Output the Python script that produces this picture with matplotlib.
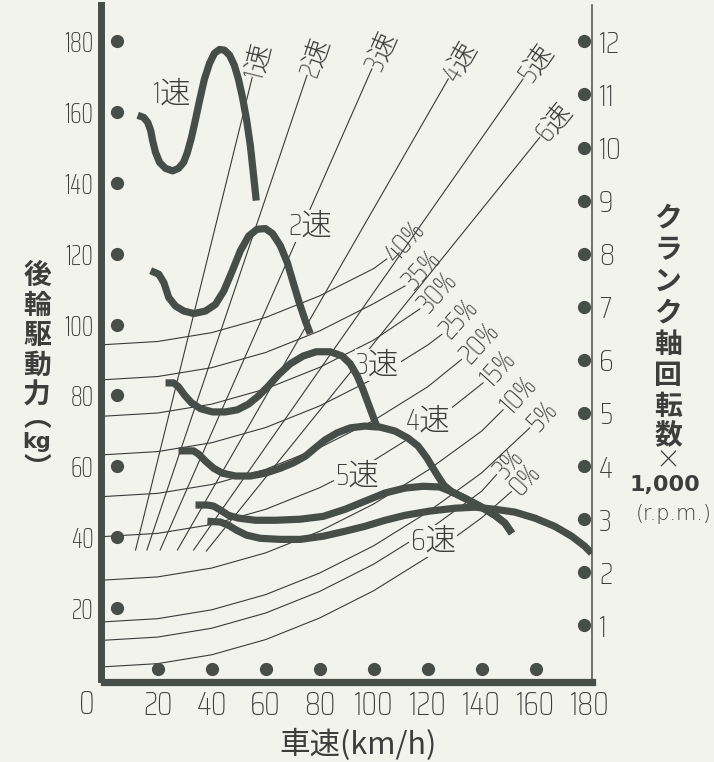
import matplotlib
matplotlib.use('Agg')
import matplotlib.pyplot as plt
from matplotlib import font_manager as fm
import numpy as np

# ---------------- data ----------------
speed_ticks = [20, 40, 60, 80, 100, 120, 140, 160, 180]
force_ticks = [20, 40, 60, 80, 100, 120, 140, 160, 180]
rpm_ticks = [1, 2, 3, 4, 5, 6, 7, 8, 9, 10, 11, 12]
RPM_TO_KG = 15.0  # right axis 12 (x1000 rpm) sits at left-axis 180 kg

gear_names = ['1速', '2速', '3速', '4速', '5速', '6速']

gear1_speed = [12.6, 14.8, 16.3, 17.4, 18.1, 19.2, 20.7, 22.9, 25.5, 27.7, 29.6, 31.0, 32.5, 34.0,
               35.5, 37.3, 39.2, 41.0, 42.9, 44.7, 46.6, 48.4, 49.9, 51.4, 52.9, 54.3, 55.4, 56.5]
gear1_force = [159.1, 158.5, 157.1, 154.8, 152.0, 148.6, 145.8, 144.1, 143.4, 144.1, 145.8, 148.6, 152.8, 157.9,
               163.3, 169.3, 173.8, 176.6, 177.7, 177.5, 176.1, 173.2, 169.3, 164.2, 157.9, 150.6, 142.9, 135.0]

gear2_speed = [17.4, 20.4, 22.3, 24.1, 26.6, 29.7, 33.4, 37.7, 41.4, 44.5, 47.6, 50.6, 53.7, 56.8,
               59.9, 62.5, 65.4, 68.0, 70.2, 72.4, 74.7, 76.5]
gear2_force = [115.2, 114.2, 111.8, 107.6, 105.2, 103.8, 103.1, 103.8, 105.7, 109.5, 115.1, 120.8, 125.0, 126.9,
               127.1, 125.7, 122.3, 117.5, 111.8, 106.2, 101.0, 97.4]

gear3_speed = [22.9, 25.9, 27.7, 29.9, 32.5, 35.9, 40.3, 45.1, 49.5, 53.6, 57.3, 61.0, 64.7, 69.1,
               73.9, 78.7, 83.9, 88.3, 91.3, 93.9, 96.1, 98.3, 100.5, 101.6]
gear3_force = [83.5, 83.5, 82.4, 80.1, 77.9, 76.2, 75.3, 75.3, 75.9, 77.5, 79.8, 82.6, 85.8, 88.9,
               91.1, 92.3, 92.3, 91.1, 88.9, 85.5, 81.5, 77.0, 72.5, 70.5]

gear4_speed = [27.7, 33.3, 35.1, 37.7, 40.7, 44.0, 48.8, 54.3, 59.9, 65.4, 70.2, 74.7, 78.3, 82.0, 86.5,
               91.3, 96.8, 102.4, 107.9, 112.7, 116.4, 119.7, 123.1, 126.0, 129.0, 133.8, 139.3, 144.9, 148.6, 151.2]
gear4_force = [64.3, 64.3, 63.4, 61.4, 59.4, 58.0, 57.2, 57.2, 58.0, 59.4, 60.9, 62.8, 65.1, 67.4, 69.4,
               70.8, 71.3, 71.0, 69.9, 67.9, 65.7, 62.3, 58.0, 54.6, 52.7, 50.9, 48.7, 46.1, 43.9, 41.0]

gear5_speed = [34.0, 38.4, 40.7, 43.2, 46.2, 49.9, 56.2, 63.6, 72.8, 81.3, 89.4, 96.8, 104.2, 111.6,
               118.3, 124.5, 129.0, 133.8, 139.3, 144.9, 148.6, 151.2]
gear5_force = [49.0, 49.0, 48.7, 47.6, 46.1, 45.3, 44.7, 44.7, 45.0, 45.8, 47.8, 50.1, 52.4, 53.8,
               54.3, 54.1, 52.7, 50.9, 48.7, 46.1, 43.9, 41.0]

gear6_speed = [38.4, 43.2, 46.2, 49.2, 52.9, 58.0, 65.4, 72.8, 81.3, 89.4, 96.8, 104.2, 111.6, 120.8,
               130.1, 137.5, 144.9, 152.3, 159.7, 167.0, 173.3, 178.1, 180.7]
gear6_force = [44.4, 44.2, 43.3, 41.9, 40.5, 39.6, 39.3, 39.3, 40.2, 41.6, 43.0, 44.7, 46.1, 47.3,
               48.1, 48.4, 47.8, 47.0, 45.3, 43.0, 40.2, 37.4, 35.4]

# engine-speed lines of each gear (km/h, x1000 rpm) : start and end points
gearline_start_speed = [11.8, 16.0, 20.9, 27.3, 33.3, 38.0]
gearline_start_rpm = [2.42, 2.42, 2.42, 2.42, 2.42, 2.40]
gearline_end_speed = [55.0, 75.3, 99.3, 127.6, 155.3, 161.5]
gearline_end_rpm = [11.32, 11.36, 11.48, 11.29, 11.29, 10.19]

# gradient resistance curves
grade_labels = ['0%', '3%', '5%', '10%', '15%', '20%', '25%', '30%', '35%', '40%']
grade_speed = [
    [0, 20, 40, 60, 80, 100, 120, 140, 151.0],
    [0, 20, 40, 60, 80, 100, 120, 140, 145.5],
    [0, 20, 40, 60, 80, 100, 120, 140, 157.8],
    [0, 20, 40, 60, 80, 100, 120, 140, 147.9],
    [0, 20, 40, 60, 80, 100, 120, 140.5],
    [0, 20, 40, 60, 80, 100, 120, 132.5],
    [0, 20, 40, 60, 80, 100, 120, 125.2],
    [0, 20, 40, 60, 80, 100, 117.1],
    [0, 20, 40, 60, 80, 100, 111.6],
    [0, 20, 40, 60, 80, 100, 104.8],
]
grade_force = [
    [3.3, 4.2, 6.7, 11.0, 17.1, 24.8, 34.3, 45.4, 52.8],
    [10.8, 11.7, 14.2, 18.5, 24.6, 32.3, 41.8, 52.9, 57.6],
    [16.0, 16.9, 19.4, 23.7, 29.8, 37.5, 47.0, 58.1, 70.8],
    [27.8, 28.7, 31.2, 35.5, 41.6, 49.3, 58.8, 69.9, 75.9],
    [40.1, 41.0, 43.5, 47.8, 53.9, 61.6, 71.1, 83.5],
    [51.4, 52.3, 54.8, 59.1, 65.2, 72.9, 82.4, 90.1],
    [63.2, 64.1, 66.6, 70.9, 77.0, 84.7, 94.2, 97.2],
    [74.1, 75.0, 77.5, 81.8, 87.9, 95.6, 104.4],
    [84.4, 85.3, 87.8, 92.1, 98.2, 105.9, 110.9],
    [94.3, 95.2, 97.7, 102.0, 108.1, 115.8, 118.5],
]

# curve-label positions (km/h, kg)
gear_label_speed = [25.5, 76.5, 101.6, 120.1, 93.9, 122.0]
gear_label_force = [165.1, 127.9, 88.6, 72.7, 57.2, 38.8]

# ---------------- style ----------------
W, H = 714, 762
BG = '#f3f3ee'
INK = '#474e4a'
TXT = '#3d3d3d'

avail = {f.name for f in fm.fontManager.ttflist}
def pick(cands, default='DejaVu Sans'):
    for c in cands:
        if c in avail:
            return c
    return default

NUM = pick(['Saira Condensed', 'Roboto Condensed', 'DejaVu Sans Condensed', 'Roboto'])
NUMY = pick(['Saira ExtraCondensed', 'Saira Condensed', 'Roboto Condensed', 'DejaVu Sans'])
CJK = 'Noto Sans CJK JP'
FAM = [NUM, CJK, 'DejaVu Sans']
plt.rcParams['font.family'] = FAM
plt.rcParams['font.weight'] = 'light'

fig = plt.figure(figsize=(W / 100, H / 100), dpi=100, facecolor=BG)
L, R, B, T = 103.7, 592.0, 678.5, 5.0
ax = fig.add_axes([L / W, (H - B) / H, (R - L) / W, (B - T) / H])
ax.set_facecolor('none')
ax.set_xlim(0, (R - L) / 2.70)
ax.set_ylim(0, (B - T) / 3.54)

ax.spines['top'].set_visible(False)
ax.spines['left'].set_linewidth(5.0)
ax.spines['bottom'].set_linewidth(5.2)
ax.spines['left'].set_position(('outward', 2.3))
ax.spines['bottom'].set_position(('outward', 2.3))
ax.spines['right'].set_linewidth(1.1)
for s in ['left', 'bottom', 'right']:
    ax.spines[s].set_color(INK)

ax.set_xticks(speed_ticks)
ax.set_yticks(force_ticks)
ax.tick_params(axis='both', length=0, colors=TXT)
ax.tick_params(axis='x', pad=7, labelsize=23)
ax.tick_params(axis='y', pad=5, labelsize=21)
for lab in ax.get_yticklabels():
    lab.set_fontfamily([NUMY, 'DejaVu Sans'])
ax.text(-0.034, -0.039, '0', transform=ax.transAxes, ha='center', va='center',
        fontsize=23, color=TXT)

ax2 = ax.twinx()
ax2.set_ylim(0, ax.get_ylim()[1] / RPM_TO_KG)
ax2.set_yticks(rpm_ticks)
ax2.tick_params(axis='y', length=0, labelsize=22, colors=TXT, pad=5)
for s in ['top', 'left', 'bottom', 'right']:
    ax2.spines[s].set_visible(False)

# dots on the axes
ax.plot([4.8] * len(force_ticks), force_ticks, 'o', ms=8.5, color=INK, zorder=5)
ax.plot(speed_ticks[:-1], [2.7] * (len(speed_ticks) - 1), 'o', ms=8.5, color=INK, zorder=5)
ax.plot([177.8] * len(rpm_ticks), [r * RPM_TO_KG for r in rpm_ticks], 'o', ms=8.5, color=INK, zorder=5)

# gradient curves
for sp, fo, lab in zip(grade_speed, grade_force, grade_labels):
    ax.plot(sp, fo, color='#3a3a3a', lw=0.8, zorder=2)
    ax.annotate(lab, (sp[-1], fo[-1]), xytext=(2, 0), textcoords='offset points',
                rotation=48, rotation_mode='anchor', ha='left', va='center',
                fontsize=21, color=TXT, zorder=3)

# gear engine-speed lines
fig.canvas.draw()
for i in range(6):
    x0, x1 = gearline_start_speed[i], gearline_end_speed[i]
    y0, y1 = gearline_start_rpm[i] * RPM_TO_KG, gearline_end_rpm[i] * RPM_TO_KG
    ax.plot([x0, x1], [y0, y1], color='#3a3a3a', lw=0.8, zorder=2)
    p0 = ax.transData.transform((x0, y0))
    p1 = ax.transData.transform((x1, y1))
    ang = np.degrees(np.arctan2(p1[1] - p0[1], p1[0] - p0[0]))
    ax.annotate(gear_names[i], (x1, y1), xytext=(1, 0), textcoords='offset points',
                rotation=ang, rotation_mode='anchor', ha='left', va='center',
                fontsize=20, color=TXT, zorder=3)

# driving-force curves
gears = [(gear1_speed, gear1_force), (gear2_speed, gear2_force), (gear3_speed, gear3_force),
         (gear4_speed, gear4_force), (gear5_speed, gear5_force), (gear6_speed, gear6_force)]
for sp, fo in gears:
    ax.plot(sp, fo, color=INK, lw=5.2, solid_joinstyle='round', solid_capstyle='butt', zorder=4)

for name, xs, ys in zip(gear_names, gear_label_speed, gear_label_force):
    ax.text(xs, ys, name, ha='center', va='center', fontsize=22, color=TXT, zorder=3.5,
            bbox=dict(boxstyle='square,pad=0.05', fc=BG, ec='none'))

# axis titles
def ftext(x, y, s, **kw):
    return fig.text(x / W, 1 - y / H, s, ha='center', va='center', color=TXT, **kw)

for ch, y in [('後', 276), ('輪', 306), ('駆', 336), ('動', 366), ('力', 396)]:
    ftext(37, y, ch, fontsize=20, fontweight='bold', family=[CJK])
ftext(37, 418, '︵', fontsize=20, fontweight='bold', family=[CJK])
ftext(37, 442, 'kg', fontsize=15, fontweight='bold', family=['DejaVu Sans'])
ftext(37, 469, '︶', fontsize=20, fontweight='bold', family=[CJK])

for ch, y in [('ク', 218), ('ラ', 250), ('ン', 282), ('ク', 313), ('軸', 345), ('回', 376),
              ('転', 407), ('数', 436)]:
    ftext(668, y, ch, fontsize=20, fontweight='bold', family=[CJK])
ftext(668, 461, '×', fontsize=18, family=[CJK])
ftext(665, 485, '1,000', fontsize=16, fontweight='bold', family=['DejaVu Sans'])
ftext(674, 514, '(r.p.m.)', fontsize=15, family=['DejaVu Sans'])

ftext(358, 745, '車速(km/h)', fontsize=22, fontweight='normal', family=[CJK])

fig.savefig('out.png', dpi=100, facecolor=BG)
